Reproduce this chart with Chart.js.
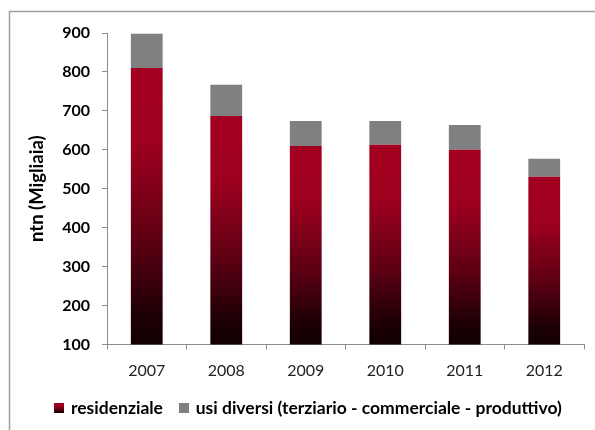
<!DOCTYPE html>
<html>
<head>
<meta charset="utf-8">
<script src="https://cdn.jsdelivr.net/npm/chart.js@4/dist/chart.umd.min.js"></script>
<style>
html,body{margin:0;padding:0;background:#fff;}
canvas{display:block;}
</style>
</head>
<body>
<canvas id="c" width="595" height="430"></canvas>
<script>
const categories = ['2007','2008','2009','2010','2011','2012'];
const residenziale = [810, 687, 610, 613, 600, 531];
const usiDiversi = [88, 80, 64, 61, 64, 46];
const seriesNames = ['residenziale', 'usi diversi (terziario - commerciale - produttivo)'];
const yTicks = [100, 200, 300, 400, 500, 600, 700, 800, 900];

const FONT = 'Lato, "Open Sans", sans-serif';

function redGradient(ctx, top, bottom) {
  const g = ctx.createLinearGradient(0, top, 0, bottom);
  g.addColorStop(0, '#a40021');
  g.addColorStop(0.28, '#9d001f');
  g.addColorStop(0.62, '#5e0013');
  g.addColorStop(0.9, '#1c0004');
  g.addColorStop(1, '#120000');
  return g;
}

function legendBox(kind) {
  const c = document.createElement('canvas');
  c.width = 10; c.height = 10;
  const x = c.getContext('2d');
  if (kind === 'red') {
    x.fillStyle = redGradient(x, 0, 10);
  } else {
    x.fillStyle = '#808080';
  }
  x.fillRect(0, 0, 10, 10);
  return c;
}
const boxRed = legendBox('red');
const boxGrey = legendBox('grey');

const framePlugin = {
  id: 'frame',
  beforeDraw(chart) {
    const ctx = chart.ctx;
    ctx.save();
    ctx.strokeStyle = '#a0a0a0';
    ctx.lineWidth = 1.5;
    ctx.beginPath();
    ctx.moveTo(9.5, 430);
    ctx.lineTo(9.5, 11.5);
    ctx.lineTo(595, 11.5);
    ctx.stroke();
    ctx.restore();
  }
};

const LEGEND_SHIFT = 17;
const legendShift = {
  id: 'legendShift',
  afterLayout(chart) {
    if (chart.legend) {
      chart.legend.left += LEGEND_SHIFT;
      chart.legend.right += LEGEND_SHIFT;
    }
  }
};

new Chart(document.getElementById('c'), {
  type: 'bar',
  data: {
    labels: categories,
    datasets: [
      {
        label: seriesNames[0],
        data: residenziale,
        backgroundColor: (context) => {
          const chart = context.chart;
          const area = chart.chartArea;
          if (!area || context.type !== 'data') return '#a40021';
          const y = chart.scales.y;
          const top = y.getPixelForValue(residenziale[context.dataIndex]);
          return redGradient(chart.ctx, top, area.bottom);
        },
        barPercentage: 0.4,
        categoryPercentage: 1.0,
        borderWidth: 0
      },
      {
        label: seriesNames[1],
        data: usiDiversi,
        backgroundColor: '#808080',
        barPercentage: 0.4,
        categoryPercentage: 1.0,
        borderWidth: 0
      }
    ]
  },
  options: {
    responsive: false,
    animation: false,
    layout: { padding: { left: 0, top: 33, right: 11, bottom: 3 } },
    plugins: {
      legend: {
        position: 'bottom',
        labels: {
          font: { family: FONT, size: 17.5, weight: 'bold' },
          color: '#000',
          usePointStyle: true,
          boxWidth: 6,
          boxHeight: 10,
          padding: 18,
          generateLabels: (chart) => seriesNames.map((n, i) => ({
            text: n,
            pointStyle: i === 0 ? boxRed : boxGrey,
            fillStyle: i === 0 ? '#a40021' : '#808080',
            strokeStyle: 'transparent',
            lineWidth: 0,
            hidden: false,
            datasetIndex: i
          }))
        }
      },
      tooltip: { enabled: false }
    },
    scales: {
      x: {
        stacked: true,
        grid: {
          drawOnChartArea: false,
          drawTicks: true,
          tickLength: 5,
          color: '#8c8c8c',
          offset: true
        },
        border: { color: '#8c8c8c', width: 1 },
        ticks: {
          font: { family: FONT, size: 16 },
          color: '#222',
          padding: 12
        },
        afterFit: (s) => { s.height = 37; }
      },
      y: {
        stacked: true,
        min: 100,
        max: 900,
        afterBuildTicks: (s) => { s.ticks = yTicks.map(v => ({ value: v })); },
        grid: {
          drawOnChartArea: false,
          drawTicks: true,
          tickLength: 5,
          color: '#8c8c8c'
        },
        border: { color: '#8c8c8c', width: 1 },
        ticks: {
          font: { family: FONT, size: 16, weight: 'bold' },
          color: '#000',
          padding: 12
        },
        title: {
          display: true,
          text: 'ntn (Migliaia)',
          font: { family: FONT, size: 18.5, weight: 'bold' },
          color: '#000',
          padding: { top: 26, bottom: 0 }
        },
        afterFit: (s) => { s.width = 107; }
      }
    }
  },
  plugins: [framePlugin, legendShift]
});
</script>
</body>
</html>
